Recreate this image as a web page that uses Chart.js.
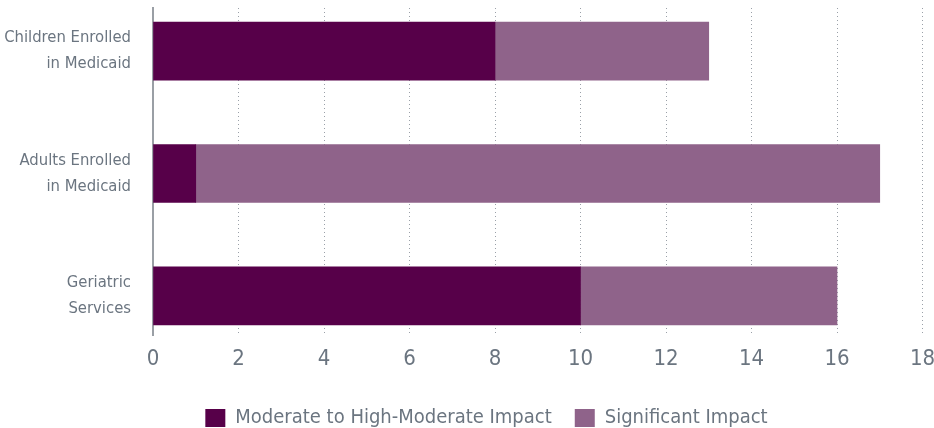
<!DOCTYPE html>
<html>
<head>
<meta charset="utf-8">
<script src="https://cdn.jsdelivr.net/npm/chart.js@4.4.1/dist/chart.umd.min.js"></script>
<style>
  html, body { margin: 0; padding: 0; background: #fff; }
  #wrap { width: 934px; height: 428px; }
</style>
</head>
<body>
<div id="wrap"><canvas id="impactChart"></canvas></div>
<script>
// data
const categories = [
  ['Children Enrolled', 'in Medicaid'],
  ['Adults Enrolled', 'in Medicaid'],
  ['Geriatric', 'Services']
];
const moderateImpact = [8, 1, 10];
const significantImpact = [5, 16, 6];
const xTicks = [0, 2, 4, 6, 8, 10, 12, 14, 16, 18];

const darkPurple = '#570049';
const lightPurple = '#8f638a';
const textGrey = '#6b7580';
const font = '"DejaVu Sans Condensed", "Liberation Sans Narrow", sans-serif';

// bars sit on a linear index scale so the rows line up with the picture
const toPoints = vals => vals.map((v, i) => ({ x: v, y: i }));

const ctx = document.getElementById('impactChart').getContext('2d');
const impactChart = new Chart(ctx, {
  type: 'bar',
  data: {
    datasets: [{
      label: 'Moderate to High-Moderate Impact',
      data: toPoints(moderateImpact),
      backgroundColor: darkPurple,
      barThickness: 58
    }, {
      label: 'Significant Impact',
      data: toPoints(significantImpact),
      backgroundColor: lightPurple,
      barThickness: 58
    }]
  },
  options: {
    indexAxis: 'y',
    responsive: true,
    maintainAspectRatio: false,
    animation: false,
    // legend is centred a bit right of the canvas middle, hence the uneven padding
    layout: { padding: { top: 8, left: 4, right: -35, bottom: -10 } },
    plugins: {
      tooltip: { enabled: false },
      legend: {
        position: 'bottom',
        labels: {
          color: textGrey,
          font: { family: font, size: 20 },
          boxWidth: 20,
          boxHeight: 18,
          padding: 23
        }
      }
    },
    scales: {
      x: {
        stacked: true,
        min: 0,
        max: 18,
        afterBuildTicks: axis => { axis.ticks = xTicks.map(v => ({ value: v })); },
        afterFit: axis => {
          axis.height = 50;
          axis.paddingLeft = 0;
          axis.paddingRight = 0;
        },
        grid: { color: '#9aa0a8', drawTicks: false },
        border: { display: false, dash: [1, 3] },
        ticks: {
          color: textGrey,
          font: { family: font, size: 22 },
          padding: 11
        }
      },
      y: {
        type: 'linear',
        stacked: true,
        reverse: true,
        offset: false,
        min: -0.352,
        max: 2.32,
        grid: { display: false },
        border: { display: true, color: '#9a9fa5', width: 2 },
        afterBuildTicks: axis => { axis.ticks = categories.map((c, i) => ({ value: i })); },
        afterFit: axis => {
          axis.width = 149;
          axis.paddingTop = 0;
          axis.paddingBottom = 0;
        },
        ticks: {
          color: textGrey,
          font: { family: font, size: 16.5, lineHeight: '26px' },
          padding: 14,
          callback: v => categories[v]
        }
      },
      // empty spacer on the right
      yRight: {
        axis: 'y',
        type: 'linear',
        position: 'right',
        grid: { display: false },
        border: { display: false },
        ticks: { display: false },
        afterFit: axis => {
          axis.width = 46.5;
          axis.paddingTop = 0;
          axis.paddingBottom = 0;
        }
      }
    }
  }
});
</script>
</body>
</html>
